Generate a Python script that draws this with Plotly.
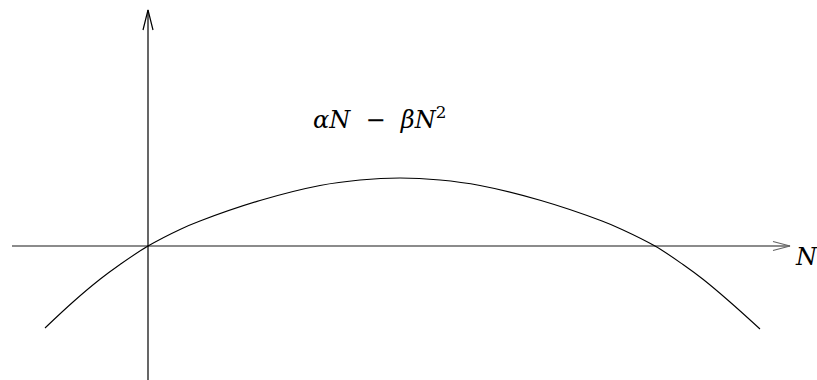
import plotly.graph_objects as go

# Sketch of the logistic growth term  f(N) = alpha*N - beta*N^2
# Sampled points along the curve (N, f(N)); the axes meet at the origin.
N_vals = [-1.03, -0.75, -0.48, -0.28, 0.0, 0.32, 0.52, 1.12, 1.72, 2.12,
          2.52, 2.92, 3.32, 3.93, 4.54, 4.74, 5.07, 5.35, 5.55, 5.82, 6.12]
f_vals = [-0.82, -0.56, -0.333, -0.185, 0.0, 0.166, 0.25, 0.455, 0.605, 0.66,
          0.68, 0.66, 0.605, 0.455, 0.25, 0.166, 0.0, -0.185, -0.333, -0.56, -0.83]

# Axis extents
x_axis_start, x_axis_end = -1.36, 6.42
y_axis_start, y_axis_end = -1.34, 2.36

curve_label = "<i>αN</i>  −  <i>βN</i><sup>2</sup>"
axis_label = "<i>N</i>"

fig = go.Figure()

# horizontal N axis
fig.add_trace(go.Scatter(x=[x_axis_start, x_axis_end], y=[0, 0], mode="lines",
                         line=dict(color="#646464", width=1.6), hoverinfo="skip"))
# open arrowhead on the N axis
ah_len, ah_half = 0.17, 0.045
fig.add_trace(go.Scatter(x=[x_axis_end - ah_len, x_axis_end, x_axis_end - ah_len],
                         y=[ah_half, 0, -ah_half], mode="lines",
                         line=dict(color="#646464", width=1.2), hoverinfo="skip"))

# vertical axis
fig.add_trace(go.Scatter(x=[0, 0], y=[y_axis_start, y_axis_end], mode="lines",
                         line=dict(color="black", width=1.2), hoverinfo="skip"))
va_len, va_half = 0.20, 0.05
fig.add_trace(go.Scatter(x=[-va_half, 0, va_half],
                         y=[y_axis_end - va_len, y_axis_end, y_axis_end - va_len],
                         mode="lines", line=dict(color="black", width=1.2),
                         hoverinfo="skip"))

# the curve
fig.add_trace(go.Scatter(x=N_vals, y=f_vals, mode="lines",
                         line=dict(color="black", width=1.1, shape="spline", smoothing=1.0),
                         hoverinfo="skip"))

serif = "DejaVu Serif, Liberation Serif, serif"
fig.add_annotation(x=1.63, y=1.10, text=curve_label, showarrow=False,
                   xanchor="left", yanchor="bottom",
                   font=dict(family=serif, size=24, color="black"))
fig.add_annotation(x=6.45, y=-0.27, text=axis_label, showarrow=False,
                   xanchor="left", yanchor="bottom",
                   font=dict(family=serif, size=24, color="black"))

fig.update_layout(
    width=817, height=380,
    margin=dict(l=0, r=0, t=0, b=0),
    paper_bgcolor="white", plot_bgcolor="white",
    showlegend=False,
    xaxis=dict(range=[-1.48, 6.69], visible=False, fixedrange=True),
    yaxis=dict(range=[-1.34, 2.46], visible=False, fixedrange=True),
)

fig.write_html("out.html")
